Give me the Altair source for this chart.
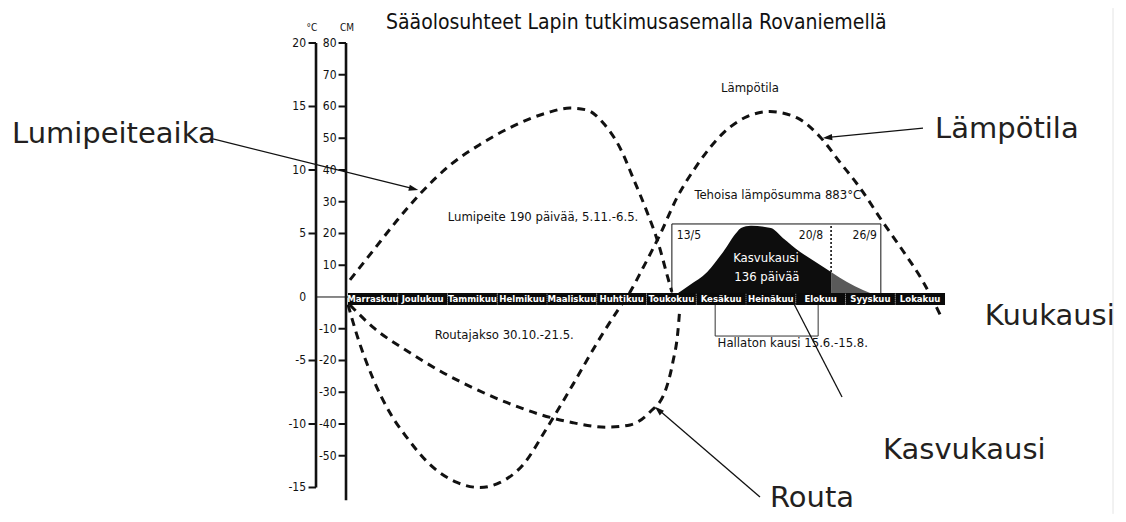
import altair as alt
import pandas as pd

# ---------------- data (x = months since 1 Nov, y = cm; temperature in °C) ----------------
months = ["Marraskuu", "Joulukuu", "Tammikuu", "Helmikuu", "Maaliskuu", "Huhtikuu",
          "Toukokuu", "Kesäkuu", "Heinäkuu", "Elokuu", "Syyskuu", "Lokakuu"]

snow_m = [0.04, 0.50, 0.98, 1.45, 2.05, 2.65, 3.32, 4.00, 4.46, 4.80, 5.13, 5.47, 5.73, 6.01, 6.23, 6.43, 6.51]
snow_cm = [5.4, 14.5, 24.0, 32.5, 41.5, 48.0, 53.8, 58.0, 59.5, 58.9, 54.8, 46.9, 37.5, 26.8, 17.3, 6.0, 1.6]

frost_m = [0.04, 0.50, 1.19, 1.85, 2.51, 3.20, 3.86, 4.52, 5.21, 5.67, 6.07, 6.37, 6.53, 6.63, 6.67]
frost_cm = [-2.5, -9.5, -17.0, -23.3, -28.6, -33.3, -37.0, -39.6, -41.0, -40.3, -36.2, -29.9, -20.5, -11.0, -3.5]

temp_m = [0.00, 0.18, 0.50, 0.84, 1.19, 1.65, 2.19, 2.65, 3.06, 3.52, 4.00, 4.52, 5.07, 5.43, 5.67,
          5.93, 6.27, 6.61, 7.02, 7.54, 8.02, 8.48, 9.03, 9.49, 9.89, 10.29, 10.75, 11.16, 11.56, 11.94]
temp_c = [-0.6, -3.0, -6.4, -9.1, -11.1, -13.2, -14.6, -15.0, -14.6, -13.2, -10.3, -6.9, -3.2, -1.0, 0.4,
          2.3, 4.9, 7.8, 10.4, 12.9, 14.2, 14.6, 14.1, 12.6, 10.6, 8.6, 5.9, 3.6, 1.2, -1.7]

grow_m = [6.51, 6.87, 7.22, 7.54, 7.82, 7.90, 8.10, 8.50, 8.74, 9.09, 9.43, 9.71]
grow_cm = [0.0, 3.8, 7.9, 14.2, 20.5, 21.7, 22.4, 21.7, 18.6, 14.2, 10.7, 7.9]
late_m = [9.71, 10.03, 10.35, 10.71]
late_cm = [7.9, 4.7, 2.2, 0.0]

celsius_ticks = [20, 15, 10, 5, 0, -5, -10, -15]
cm_ticks = [80, 70, 60, 50, 40, 30, 20, 10, -10, -20, -30, -40, -50]

season_start, season_split, season_end, season_top = 6.51, 9.71, 10.71, 23.0
frostfree_start, frostfree_end, frostfree_bottom = 7.38, 9.45, -12.3

# ---------------- styling ----------------
FONT_C = "Liberation Sans Narrow, DejaVu Sans Condensed, Roboto Condensed, Roboto, sans-serif"
FONT_BIG = "DejaVu Sans"
INK = "#111111"

XS = alt.Scale(domain=[-6.834, 15.477], nice=False, zero=False)
YS = alt.Scale(domain=[-68.35, 91.02], nice=False, zero=False)


def X(f):
    return alt.X(f, type="quantitative", scale=XS, axis=None)


def Y(f):
    return alt.Y(f, type="quantitative", scale=YS, axis=None)


def texts(rows, **kw):
    df = pd.DataFrame(rows, columns=["m", "cm", "text"])
    return alt.Chart(df).mark_text(**kw).encode(x=X("m"), y=Y("cm"), text="text:N")


DASH = dict(color=INK, strokeWidth=3, strokeDash=[8, 6], interpolate="monotone")

# ---------------- layers ----------------
snow = alt.Chart(pd.DataFrame({"m": snow_m, "cm": snow_cm})).mark_line(**DASH).encode(x=X("m"), y=Y("cm"))
frost = alt.Chart(pd.DataFrame({"m": frost_m, "cm": frost_cm})).mark_line(**DASH).encode(x=X("m"), y=Y("cm"))
temp = alt.Chart(pd.DataFrame({"m": temp_m, "t": temp_c})).transform_calculate(
    cm="datum.t * 4"
).mark_line(**DASH).encode(x=X("m"), y=Y("cm"))

grow = alt.Chart(pd.DataFrame({"m": grow_m, "cm": grow_cm})).mark_area(
    color="#0d0d0d", interpolate="monotone"
).encode(x=X("m"), y=Y("cm"), y2=alt.Y2(datum=0))

late = alt.Chart(pd.DataFrame({"m": late_m, "cm": late_cm})).mark_area(
    color="#5a5a5a", interpolate="monotone"
).encode(x=X("m"), y=Y("cm"), y2=alt.Y2(datum=0))

box = alt.Chart(pd.DataFrame({"m0": [season_start], "m1": [season_end], "c0": [0], "c1": [season_top]})).mark_rect(
    fillOpacity=0, stroke=INK, strokeWidth=1
).encode(x=X("m0"), x2="m1", y=Y("c0"), y2="c1")

split = alt.Chart(pd.DataFrame({"m": [season_split], "c0": [7.9], "c1": [season_top]})).mark_rule(
    color=INK, strokeWidth=1.6, strokeDash=[2, 2]
).encode(x=X("m"), y=Y("c0"), y2="c1")

frostfree = alt.Chart(pd.DataFrame({"m0": [frostfree_start], "m1": [frostfree_end], "c0": [frostfree_bottom], "c1": [-2.0]})).mark_rect(
    fillOpacity=0, stroke="#333333", strokeWidth=1
).encode(x=X("m0"), x2="m1", y=Y("c0"), y2="c1")

# month bar
mdf = pd.DataFrame({"m0": list(range(12)), "label": months})
bar = alt.Chart(mdf).transform_calculate(m1="datum.m0 + 1", c0="1.26", c1="-2.52").mark_rect(
    color="#0a0a0a"
).encode(x=X("m0"), x2="m1:Q", y=Y("c0:Q"), y2="c1:Q")
bar_txt = alt.Chart(mdf).transform_calculate(mc="datum.m0 + 0.5", cy="-0.63").mark_text(
    color="white", fontSize=9.5, fontWeight="bold", font=FONT_C
).encode(x=X("mc:Q"), y=Y("cy:Q"), text="label:N")
seps = alt.Chart(pd.DataFrame({"m": list(range(1, 12))})).transform_calculate(c0="1.0", c1="-2.3").mark_rule(
    color="#9a9a9a", strokeWidth=1, strokeDash=[1, 1]
).encode(x=X("m"), y=Y("c0:Q"), y2="c1:Q")

# axes drawn as marks
C_AX, CM_AX = -0.643, -0.040
axis_lines = alt.Chart(pd.DataFrame({"m": [C_AX, CM_AX], "c0": [80, 80], "c1": [-60, -64]})).mark_rule(
    color=INK, strokeWidth=2.6
).encode(x=X("m"), y=Y("c0"), y2="c1")

cdf = pd.DataFrame({"c": [v for v in celsius_ticks if v != 0]})
c_ticks = alt.Chart(cdf).transform_calculate(cm="datum.c * 4", m0=str(C_AX - 0.15), m1=str(C_AX)).mark_rule(
    color=INK, strokeWidth=2
).encode(x=X("m0:Q"), x2="m1:Q", y=Y("cm:Q"))
c_labels = alt.Chart(pd.DataFrame({"c": celsius_ticks})).transform_calculate(
    cm="datum.c * 4", m=str(C_AX - 0.20), lab="toString(datum.c)"
).mark_text(align="right", baseline="middle", fontSize=12, font=FONT_C, color=INK).encode(
    x=X("m:Q"), y=Y("cm:Q"), text="lab:N")

cmdf = pd.DataFrame({"v": cm_ticks})
cm_tk = alt.Chart(cmdf).transform_calculate(m0=str(CM_AX - 0.15), m1=str(CM_AX)).mark_rule(
    color=INK, strokeWidth=2
).encode(x=X("m0:Q"), x2="m1:Q", y=Y("v:Q"))
cm_labels = alt.Chart(cmdf).transform_calculate(m=str(CM_AX - 0.19), lab="toString(datum.v)").mark_text(
    align="right", baseline="middle", fontSize=12, font=FONT_C, color=INK
).encode(x=X("m:Q"), y=Y("v:Q"), text="lab:N")

zero_line = alt.Chart(pd.DataFrame({"m0": [C_AX], "m1": [0.0], "c": [0]})).mark_rule(
    color=INK, strokeWidth=1
).encode(x=X("m0"), x2="m1", y=Y("c"))

heads = texts([(-0.724, 84.7, "°C"), (-0.02, 84.7, "CM")], fontSize=10, font=FONT_C, color=INK)

title = texts([(0.764, 84.5, "Sääolosuhteet Lapin tutkimusasemalla Rovaniemellä")],
              align="left", baseline="alphabetic", fontSize=21, font=FONT_C, color=INK)

notes = texts([
    (3.92, 25.2, "Lumipeite 190 päivää, 5.11.-6.5."),
    (3.14, -12.0, "Routajakso 30.10.-21.5."),
    (8.64, 32.1, "Tehoisa lämpösumma 883°C"),
    (8.94, -14.5, "Hallaton kausi 15.6.-15.8."),
    (8.08, 65.8, "Lämpötila"),
], fontSize=13, font=FONT_C, color=INK)

box_left = texts([(6.61, 19.5, "13/5")], align="left", fontSize=12, font=FONT_C, color=INK)
box_right = texts([(9.55, 19.5, "20/8"), (10.63, 19.5, "26/9")], align="right", fontSize=12, font=FONT_C, color=INK)
season_txt = texts([(8.40, 12.3, "Kasvukausi"), (8.42, 6.3, "136 päivää")], fontSize=13, font=FONT_C, color="white")

big = texts([
    (-6.754, 48.5, "Lumipeiteaika"),
    (11.80, 50.1, "Lämpötila"),
    (12.80, -8.8, "Kuukausi"),
    (10.754, -51.0, "Kasvukausi"),
    (8.482, -66.3, "Routa"),
], align="left", baseline="alphabetic", fontSize=29, font=FONT_BIG, color="#231f20")

# arrows (label -> target)
arrows = alt.Chart(pd.DataFrame({
    "m0": [-2.714, 11.558, 8.281, 8.945],
    "c0": [49.8, 53.2, -63.0, -1.6],
    "m1": [1.35, 9.60, 6.22, 9.930],
    "c1": [34.0, 50.2, -35.2, -31.5],
})).mark_rule(color=INK, strokeWidth=1.3).encode(x=X("m0"), x2="m1", y=Y("c0"), y2="c1")

heads_df = pd.DataFrame({"m": [1.309, 9.648, 6.246], "cm": [34.1, 50.2, -35.7], "ang": [104.0, 264.3, 312.0]})
arrow_heads = alt.Chart(heads_df).mark_point(
    shape="M0,-1L0.6,0.8L-0.6,0.8Z", filled=True, color=INK, opacity=1, size=110
).encode(x=X("m"), y=Y("cm"), angle=alt.Angle("ang:Q", scale=None))

edge = alt.Chart(pd.DataFrame({"m": [15.377], "c0": [91.0], "c1": [-68.3]})).mark_rule(
    color="#e4e4e4", strokeWidth=1
).encode(x=X("m"), y=Y("c0"), y2="c1")

chart = alt.layer(
    edge, box, frostfree, grow, late, split,
    snow, frost, temp,
    bar, seps, bar_txt,
    zero_line, axis_lines, c_ticks, c_labels, cm_tk, cm_labels, heads,
    title, notes, box_left, box_right, season_txt,
    arrows, arrow_heads, big,
).properties(
    width=1110, height=506,
    autosize=alt.AutoSizeParams(type="none"),
    padding=0,
    background="white",
).configure_view(stroke=None)

chart.save("out.html", embed_options={"renderer": "svg", "actions": False})
